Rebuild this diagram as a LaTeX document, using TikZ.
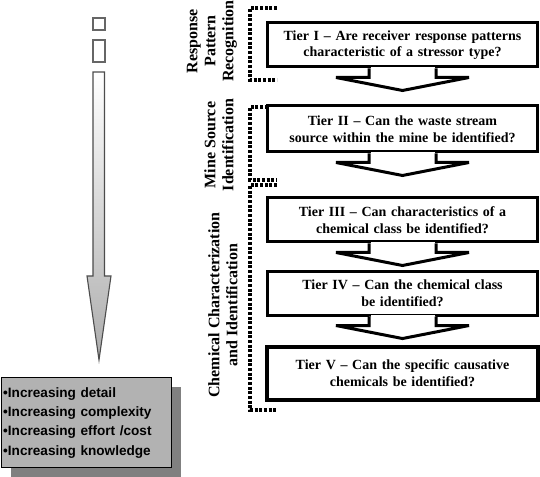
\documentclass[tikz,border=0pt]{standalone}
\usepackage{fontspec}
\setmainfont{Liberation Serif}
\setsansfont{Liberation Sans}
\usetikzlibrary{calc,shadows}

% down-pointing notch under a tier box
\newcommand{\tiernotch}[1]{%
  \fill[white] ($(#1.south)+(-32,-1.6)$) rectangle ($(#1.south)+(32,1)$);
  \draw[tierline, fill=white] ($(#1.south)+(-33.5,0)$) -- ++(0,9) -- ++(-33,0)
    -- ($(#1.south)+(0,22)$) -- ($(#1.south)+(66.5,9)$) -- ++(-33,0) -- ++(0,-9);
}

\begin{document}
\begin{tikzpicture}[
  x=0.75pt, y=-0.75pt,
  tierline/.style={line width=2.25pt, line join=miter},
  tierbox/.style={rectangle, draw, tierline, fill=white, minimum width=203pt,
                  text width=190pt, align=center, inner sep=0pt,
                  font=\fontsize{10.5}{12.5}\selectfont\bfseries},
  phaselabel/.style={rotate=90, align=center, inner sep=0pt,
                     font=\fontsize{12}{13.5}\selectfont\bfseries},
  phasebracket/.style={line width=2.6pt, dash pattern=on 2.2pt off 1.3pt},
  sqbox/.style={rectangle, draw=black!60, line width=1.2pt, fill=white,
                minimum width=9.2pt, inner sep=0pt},
  listbox/.style={rectangle, draw=black, line width=0.8pt, fill=gray!60,
                  minimum width=127.5pt, minimum height=67.5pt, text width=125pt,
                  align=left, inner xsep=1pt,
                  font=\sffamily\bfseries\fontsize{10.2}{14.5}\selectfont,
                  drop shadow={shadow xshift=7pt, shadow yshift=-7pt, fill=gray, opacity=1}},
]
\useasboundingbox (0,0) rectangle (540,477);

%% LEFT: scale arrow
\node[sqbox, minimum height=9pt]    (sq1) at (99,24) {};
\node[sqbox, minimum height=16.5pt] (sq2) at (99,51) {};
\draw[line width=0.8pt, draw=black!70, top color=white, bottom color=gray!65]
  (93,72) -- (104.5,72) -- (104.5,276) -- (111,276) -- (99,360) -- (87,276) -- (93,276) -- cycle;

\node[listbox, anchor=north west] (gains) at (1,377)
  {\textbullet Increasing detail\\
   \textbullet Increasing complexity\\
   \textbullet Increasing effort /cost\\
   \textbullet Increasing knowledge};

%% PHASE LABELS
\node[phaselabel] (rpr) at (212,41)  {Response\\Pattern\\Recognition};
\node[phaselabel] (msi) at (219,145) {Mine Source\\Identification};
\node[phaselabel] (cci) at (223,305) {Chemical Characterization\\and Identification};

\draw[phasebracket] (277,8) -- (250,8) -- (250,80) -- (277,80);
\draw[phasebracket] (277,107) -- (250,107) -- (250,180) -- (277,180);
\draw[phasebracket] (277,185) -- (250,185) -- (250,410) -- (277,410);

%% TIERS
\node[tierbox, minimum height=33pt]   (t1) at (402.5,45)
  {Tier I -- Are receiver response patterns\\characteristic of a stressor type?};
\node[tierbox, minimum height=34.5pt] (t2) at (402.5,129)
  {Tier II -- Can the waste stream\\source within the mine be identified?};
\node[tierbox, minimum height=33pt]   (t3) at (402.5,220)
  {Tier III -- Can characteristics of a\\chemical class be identified?};
\node[tierbox, minimum height=32.3pt] (t4) at (402.5,293.5)
  {Tier IV -- Can the chemical class\\be identified?};
\node[tierbox, minimum height=39.8pt, line width=3pt] (t5) at (402.5,373.5)
  {Tier V -- Can the specific causative\\chemicals be identified?};

\tiernotch{t1}
\tiernotch{t2}
\tiernotch{t3}
\tiernotch{t4}

\end{tikzpicture}
\end{document}
